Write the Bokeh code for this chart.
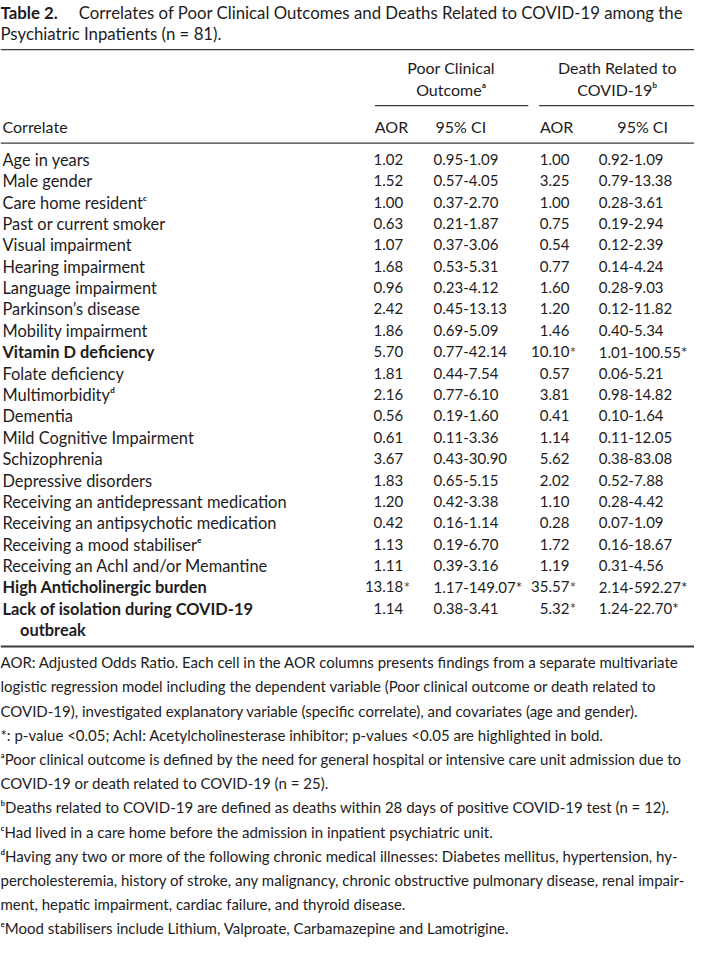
from bokeh.plotting import figure
from bokeh.models import ColumnDataSource, Range1d
from bokeh.core.properties import value
from bokeh.embed import file_html
from bokeh.resources import INLINE

# ---------------- data ----------------
title_bold = "Table 2."
title_line1 = "Correlates of Poor Clinical Outcomes and Deaths Related to COVID-19 among the"
title_line2 = "Psychiatric Inpatients (n = 81)."

group_headers = [["Poor Clinical", "Outcome\u1d43"], ["Death Related to", "COVID-19\u1d47"]]
column_headers = ["Correlate", "AOR", "95% CI", "AOR", "95% CI"]

correlates = [
    "Age in years", "Male gender", "Care home resident\u1d9c", "Past or current smoker",
    "Visual impairment", "Hearing impairment", "Language impairment", "Parkinson\u2019s disease",
    "Mobility impairment", "Vitamin D deficiency", "Folate deficiency", "Multimorbidity\u1d48",
    "Dementia", "Mild Cognitive Impairment", "Schizophrenia", "Depressive disorders",
    "Receiving an antidepressant medication", "Receiving an antipsychotic medication",
    "Receiving a mood stabiliser\u1d49", "Receiving an AchI and/or Memantine",
    "High Anticholinergic burden", "Lack of isolation during COVID-19\noutbreak",
]
bold_rows = [False] * 9 + [True] + [False] * 10 + [True, True]

poor_aor = ["1.02", "1.52", "1.00", "0.63", "1.07", "1.68", "0.96", "2.42", "1.86", "5.70", "1.81",
            "2.16", "0.56", "0.61", "3.67", "1.83", "1.20", "0.42", "1.13", "1.11", "13.18", "1.14"]
poor_ci = ["0.95-1.09", "0.57-4.05", "0.37-2.70", "0.21-1.87", "0.37-3.06", "0.53-5.31", "0.23-4.12",
           "0.45-13.13", "0.69-5.09", "0.77-42.14", "0.44-7.54", "0.77-6.10", "0.19-1.60", "0.11-3.36",
           "0.43-30.90", "0.65-5.15", "0.42-3.38", "0.16-1.14", "0.19-6.70", "0.39-3.16",
           "1.17-149.07", "0.38-3.41"]
poor_sig = [False] * 20 + [True, False]

death_aor = ["1.00", "3.25", "1.00", "0.75", "0.54", "0.77", "1.60", "1.20", "1.46", "10.10", "0.57",
             "3.81", "0.41", "1.14", "5.62", "2.02", "1.10", "0.28", "1.72", "1.19", "35.57", "5.32"]
death_ci = ["0.92-1.09", "0.79-13.38", "0.28-3.61", "0.19-2.94", "0.12-2.39", "0.14-4.24", "0.28-9.03",
            "0.12-11.82", "0.40-5.34", "1.01-100.55", "0.06-5.21", "0.98-14.82", "0.10-1.64",
            "0.11-12.05", "0.38-83.08", "0.52-7.88", "0.28-4.42", "0.07-1.09", "0.16-18.67",
            "0.31-4.56", "2.14-592.27", "1.24-22.70"]
death_sig = [False] * 9 + [True] + [False] * 10 + [True, True]

footnote_lines = [
    "AOR: Adjusted Odds Ratio. Each cell in the AOR columns presents findings from a separate multivariate",
    "logistic regression model including the dependent variable (Poor clinical outcome or death related to",
    "COVID-19), investigated explanatory variable (specific correlate), and covariates (age and gender).",
    "*: p-value <0.05; AchI: Acetylcholinesterase inhibitor; p-values <0.05 are highlighted in bold.",
    "\u1d43Poor clinical outcome is defined by the need for general hospital or intensive care unit admission due to",
    "COVID-19 or death related to COVID-19 (n = 25).",
    "\u1d47Deaths related to COVID-19 are defined as deaths within 28 days of positive COVID-19 test (n = 12).",
    "\u1d9cHad lived in a care home before the admission in inpatient psychiatric unit.",
    "\u1d48Having any two or more of the following chronic medical illnesses: Diabetes mellitus, hypertension, hy-",
    "percholesteremia, history of stroke, any malignancy, chronic obstructive pulmonary disease, renal impair-",
    "ment, hepatic impairment, cardiac failure, and thyroid disease.",
    "\u1d49Mood stabilisers include Lithium, Valproate, Carbamazepine and Lamotrigine.",
]

# ---------------- layout (reference pixel coordinates) ----------------
REF_W, REF_H = 710, 954
W, H = 694, 938
S = W / REF_W
FONT = "Lato"
TXT = "#1e1c1d"
STAR = "#4a4a4a"
RULE = "#3a3a3a"
FS_TITLE, FS_HEAD, FS_LABEL, FS_NUM, FS_FN = 17.2, 16.4, 16.8, 15.3, 15.3

def fs(px):
    return f"{px * S:.1f}px"

Y_T1, Y_T2 = 12, 33.5
Y_RULE1 = 50
Y_G1, Y_G2 = 68.5, 90.5
Y_RULE_G = 107
Y_COLH = 128
Y_RULE2 = 145
Y_ROW0, DY = 161.5, 21.75
Y_RULE3 = 657
Y_FN0, DY_FN = 673, 24.6

X_LABEL, X_INDENT = 2, 20
X_TITLE_REST = 80
X_PA_R, X_PC_L = 412, 443
X_DA_R, X_DC_L = 582, 612
X_G = [461, 631]
RULE_G = [(383, 540), (551, 710)]
X_COLH = [(2, "left"), (400, "center"), (471, "center"), (569, "center"), (657, "center")]

p = figure(width=W, height=H, output_backend="svg", toolbar_location=None,
           x_range=Range1d(0, REF_W), y_range=Range1d(REF_H, 0),
           min_border=0, outline_line_color=None, background_fill_color="white",
           border_fill_color="white")
p.axis.visible = False
p.grid.visible = False


def put(xs, ys, texts, align="left", bold=False, size=FS_LABEL, color=TXT):
    src = ColumnDataSource(dict(x=list(xs), y=list(ys), t=list(texts)))
    p.text(x="x", y="y", text="t", source=src, text_align=align, text_baseline="middle",
           text_font=value(FONT), text_font_size=fs(size),
           text_font_style="bold" if bold else "normal", text_color=color)


# title
put([0], [Y_T1], [title_bold], bold=True, size=FS_TITLE)
put([X_TITLE_REST], [Y_T1], [title_line1], size=FS_TITLE)
put([0], [Y_T2], [title_line2], size=FS_TITLE)

# rules
p.segment(x0=[0, 0], y0=[Y_RULE1, Y_RULE2], x1=[REF_W, REF_W], y1=[Y_RULE1, Y_RULE2],
          line_color=RULE, line_width=1.3)
p.segment(x0=[r[0] for r in RULE_G], y0=[Y_RULE_G] * 2, x1=[r[1] for r in RULE_G], y1=[Y_RULE_G] * 2,
          line_color=RULE, line_width=1.3)
p.segment(x0=[0], y0=[Y_RULE3], x1=[REF_W], y1=[Y_RULE3], line_color=RULE, line_width=2.2)

# group headers
for gx, (h1, h2) in zip(X_G, group_headers):
    put([gx, gx], [Y_G1, Y_G2], [h1, h2], align="center", size=FS_HEAD)

# column headers
for (cx, al), txt in zip(X_COLH, column_headers):
    put([cx], [Y_COLH], [txt], align=al, size=FS_HEAD)

# rows
row_y = []
y = Y_ROW0
label_norm = ([], [], [])
label_bold = ([], [], [])
for name, b in zip(correlates, bold_rows):
    parts = name.split("\n")
    row_y.append(y)
    tgt = label_bold if b else label_norm
    for k, part in enumerate(parts):
        tgt[0].append(X_LABEL if k == 0 else X_INDENT)
        tgt[1].append(y + k * DY)
        tgt[2].append(part)
    y += DY * len(parts)
put(*label_norm)
put(*label_bold, bold=True)

n = len(row_y)
put([X_PA_R] * n, row_y, poor_aor, align="right", size=FS_NUM)
put([X_PC_L] * n, row_y, [c + ("*" if s else "") for c, s in zip(poor_ci, poor_sig)], size=FS_NUM)
put([X_DA_R] * n, row_y, death_aor, align="right", size=FS_NUM)
put([X_DC_L] * n, row_y, [c + ("*" if s else "") for c, s in zip(death_ci, death_sig)], size=FS_NUM)

# significance asterisks hanging to the right of the AOR columns
ax, ay = [], []
for yy, s in zip(row_y, poor_sig):
    if s:
        ax.append(X_PA_R + 0.5); ay.append(yy)
for yy, s in zip(row_y, death_sig):
    if s:
        ax.append(X_DA_R + 0.5); ay.append(yy)
put(ax, ay, ["*"] * len(ax), size=FS_NUM, color=STAR)

# footnotes
put([0] * len(footnote_lines), [Y_FN0 + i * DY_FN for i in range(len(footnote_lines))],
    footnote_lines, size=FS_FN)

open("out.html", "w").write(file_html(p, INLINE))
